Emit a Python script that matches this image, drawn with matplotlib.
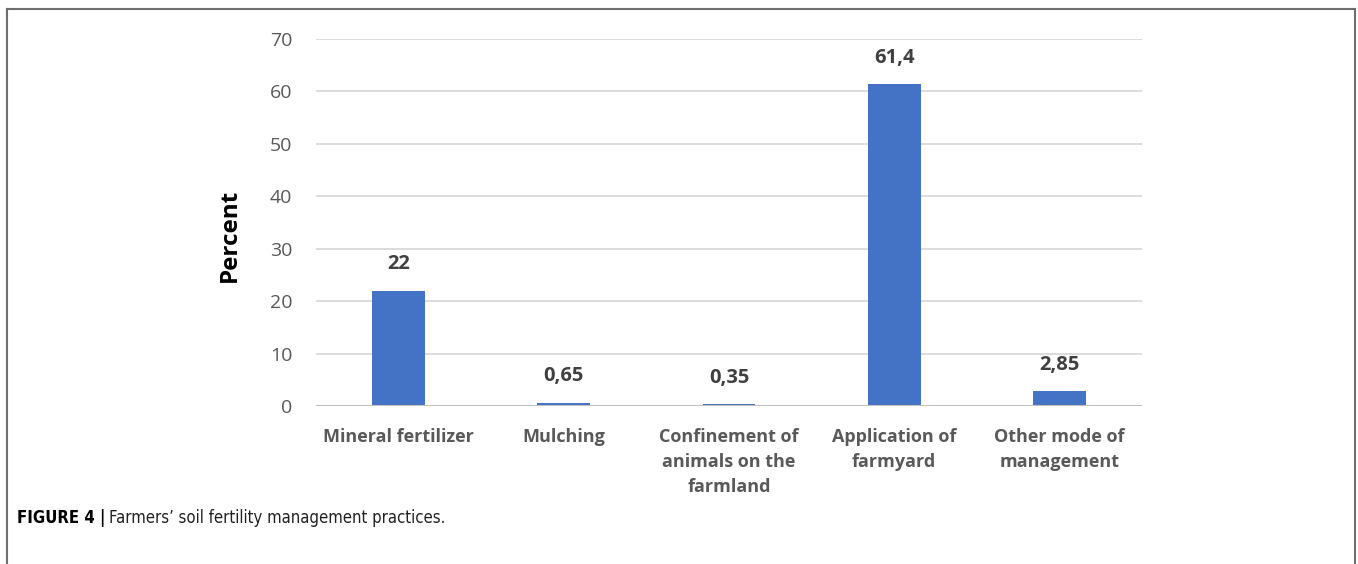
import matplotlib.pyplot as plt
from matplotlib.lines import Line2D

categories = [
    "Mineral fertilizer",
    "Mulching",
    "Confinement of\nanimals on the\nfarmland",
    "Application of\nfarmyard",
    "Other mode of\nmanagement",
]
percent = [22, 0.65, 0.35, 61.4, 2.85]
value_labels = ["22", "0,65", "0,35", "61,4", "2,85"]
y_ticks = [0, 10, 20, 30, 40, 50, 60, 70]

BAR_COLOR = "#4472C4"
FONT = ["Open Sans", "DejaVu Sans"]


def main():
    fig = plt.figure(figsize=(13.58, 5.64), dpi=100)
    ax = fig.add_axes([0.2327, 0.2801, 0.6082, 0.6508])

    x = list(range(len(categories)))
    ax.bar(x, percent, width=0.32, color=BAR_COLOR, zorder=3)

    for xi, v, lab in zip(x, percent, value_labels):
        ax.annotate(lab, (xi, v), xytext=(0, 19), textcoords="offset points",
                    ha="center", va="center", fontsize=14.5, fontweight="bold",
                    color="#404040", family=FONT)

    ax.set_xlim(-0.5, len(categories) - 0.5)
    ax.set_ylim(0, 70)
    ax.set_yticks(y_ticks)
    ax.set_xticks(x)
    ax.set_xticklabels(categories, fontsize=13, fontweight="bold",
                       color="#595959", family=FONT, linespacing=1.5)
    for t in ax.get_yticklabels():
        t.set_fontsize(14)
        t.set_color("#595959")
        t.set_family(FONT)
    ax.tick_params(axis="both", length=0)
    ax.tick_params(axis="y", pad=17)
    ax.tick_params(axis="x", pad=16)

    ax.grid(axis="y", color="#d9d9d9", linewidth=1.3, zorder=0)
    ax.axhline(0, color="#bfbfbf", linewidth=1.5, zorder=4)
    for s in ax.spines.values():
        s.set_visible(False)

    ax.set_ylabel("Percent", fontsize=17.5, fontweight="bold", color="black",
                  family=FONT)
    ax.yaxis.set_label_coords(-0.09, 0.465)

    # open-bottomed frame around the figure panel
    fx0, fx1, fy1 = 7 / 1358, 1355 / 1358, 1 - 9 / 564
    kw = dict(color="#6e6e6e", linewidth=1.5, transform=fig.transFigure)
    fig.add_artist(Line2D([fx0, fx0], [0, fy1], **kw))
    fig.add_artist(Line2D([fx0, fx1], [fy1, fy1], **kw))
    fig.add_artist(Line2D([fx1, fx1], [0, fy1], **kw))

    # caption: bold lead-in, then the plain sentence right after it
    cap_y = 1 - 518 / 564
    cap_kw = dict(fontsize=12, family="DejaVu Sans", fontstretch="condensed",
                  va="center", ha="left")
    head = fig.text(17 / 1358, cap_y, "FIGURE 4 |", fontweight="bold", **cap_kw)
    fig.canvas.draw()
    bb = head.get_window_extent().transformed(fig.transFigure.inverted())
    fig.text(bb.x1 + 4 / 1358, cap_y,
             "Farmers\u2019 soil fertility management practices.",
             color="#222222", **cap_kw)

    fig.savefig("out.png", dpi=100)


if __name__ == "__main__":
    main()
